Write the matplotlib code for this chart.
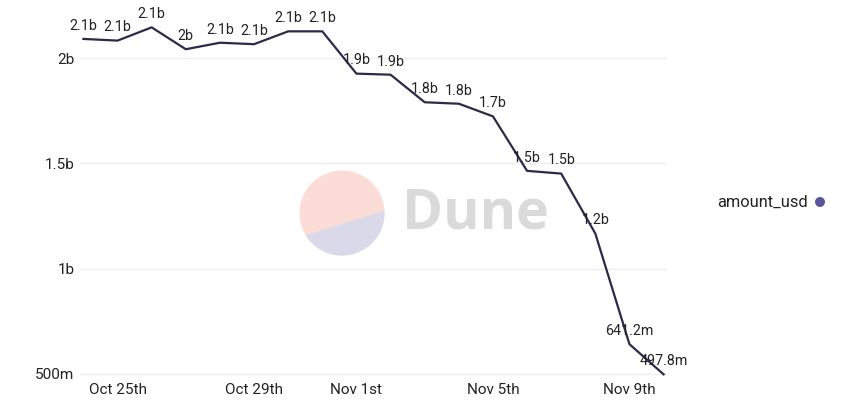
import matplotlib
matplotlib.use("Agg")
import matplotlib.pyplot as plt
import matplotlib.dates as mdates
from matplotlib.patches import Circle, Polygon
import datetime as dt

plt.rcParams['font.family'] = ['Roboto', 'DejaVu Sans']

dates = ["2022-10-24", "2022-10-25", "2022-10-26", "2022-10-27", "2022-10-28",
         "2022-10-29", "2022-10-30", "2022-10-31", "2022-11-01", "2022-11-02",
         "2022-11-03", "2022-11-04", "2022-11-05", "2022-11-06", "2022-11-07",
         "2022-11-08", "2022-11-09", "2022-11-10"]
amount_usd = [2.092e9, 2.084e9, 2.147e9, 2.043e9, 2.074e9, 2.067e9, 2.128e9, 2.128e9,
              1.927e9, 1.922e9, 1.791e9, 1.784e9, 1.724e9, 1.465e9, 1.452e9, 1.167e9,
              641.2e6, 497.8e6]
point_labels = ["2.1b", "2.1b", "2.1b", "2b", "2.1b", "2.1b", "2.1b", "2.1b",
                "1.9b", "1.9b", "1.8b", "1.8b", "1.7b", "1.5b", "1.5b", "1.2b",
                "641.2m", "497.8m"]
ytick_vals = [500e6, 1e9, 1.5e9, 2e9]
ytick_labels = ["500m", "1b", "1.5b", "2b"]
xtick_dates = ["2022-10-25", "2022-10-29", "2022-11-01", "2022-11-05", "2022-11-09"]
xtick_labels = ["Oct 25th", "Oct 29th", "Nov 1st", "Nov 5th", "Nov 9th"]

W, H = 848, 404
fig = plt.figure(figsize=(W / 100, H / 100), dpi=100)
fig.patch.set_facecolor("white")

# watermark layer (pixel coordinates)
bg = fig.add_axes([0, 0, 1, 1], zorder=0)
bg.set_xlim(0, W)
bg.set_ylim(H, 0)
bg.axis("off")
circ = Circle((342, 213), 42.5, facecolor="#fbdcd6", edgecolor="none")
bg.add_patch(circ)
low = Polygon([(280, 243), (400, 206), (400, 270), (280, 270)], closed=True,
              facecolor="#d9d9ea", edgecolor="none")
bg.add_patch(low)
low.set_clip_path(circ)
bg.text(475, 214, "Dune", fontsize=40, fontweight="bold", color="#dadada",
        ha="center", va="center", family=["Open Sans", "DejaVu Sans"])
bg.add_patch(Circle((820, 202), 5, facecolor="#5b5699", edgecolor="none"))

# main axes
left, right = 80, 667
top, bottom = 0, 376
ax = fig.add_axes([left / W, 1 - bottom / H, (right - left) / W, (bottom - top) / H], zorder=1)
ax.set_facecolor("none")

xd = [dt.datetime.strptime(d, "%Y-%m-%d") for d in dates]
xn = mdates.date2num(xd)
ax.plot(xn, amount_usd, color="#2c2a4a", linewidth=1.6, zorder=3)

for x, y, lab in zip(xn, amount_usd, point_labels):
    ax.annotate(lab, (x, y), xytext=(0, 9.5), textcoords="offset points",
                ha="center", va="center", fontsize=10.3, color="#222222", zorder=4)

ax.set_xlim(xn[0] - 0.1, xn[-1] + 0.1)
ax.set_ylim(0.49e9, 2.277e9)

ax.set_yticks(ytick_vals)
ax.set_yticklabels(ytick_labels)
xt = mdates.date2num([dt.datetime.strptime(d, "%Y-%m-%d") for d in xtick_dates])
ax.set_xticks(xt)
ax.set_xticklabels(xtick_labels)
ax.tick_params(axis="both", length=0, labelsize=11, colors="#222222")
ax.tick_params(axis="y", pad=4)
ax.tick_params(axis="x", pad=5)
ax.grid(axis="y", color="#eeeeee", linewidth=1)
ax.set_axisbelow(True)
for s in ax.spines.values():
    s.set_visible(False)

# legend
fig.text(808 / W, 1 - 202 / H, "amount_usd", ha="right", va="center", fontsize=11.8, color="#222222")

fig.savefig("out.png", dpi=100, facecolor="white")
